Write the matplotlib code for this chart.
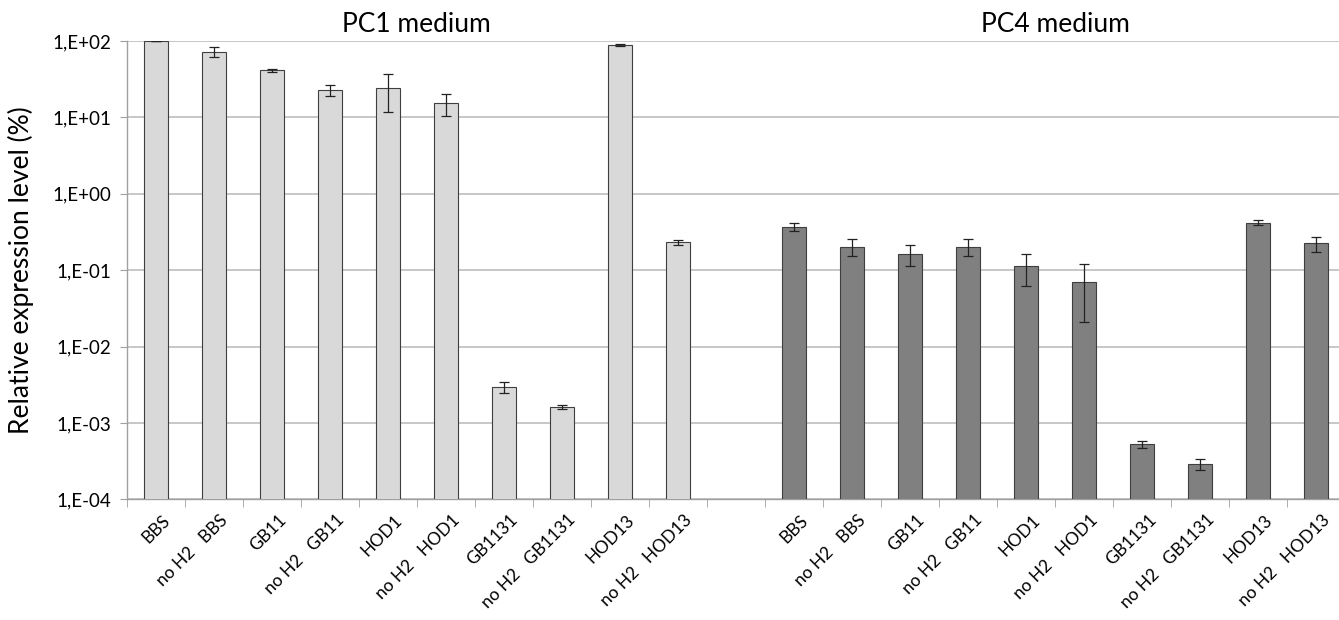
import numpy as np
import matplotlib
matplotlib.use("Agg")
import matplotlib.pyplot as plt

plt.rcParams['font.family'] = ['Lato', 'DejaVu Sans']

# sample names, same order for both media
samples = ['BBS', 'no H2   BBS', 'GB11', 'no H2   GB11', 'HOD1', 'no H2   HOD1',
           'GB1131', 'no H2   GB1131', 'HOD13', 'no H2   HOD13']

pc1_vals = [100.0, 72.5, 41.3, 22.9, 24.3, 15.6, 0.00294, 0.00163, 88.7, 0.231]
pc1_err = [0.5, 11.0, 2.0, 4.0, 12.5, 5.0, 0.00050, 0.00010, 3.0, 0.020]

pc4_vals = [0.369, 0.204, 0.162, 0.204, 0.113, 0.0711, 0.000526, 0.000288, 0.421, 0.2255]
pc4_err = [0.045, 0.050, 0.050, 0.050, 0.050, 0.050, 0.000050, 0.000047, 0.035, 0.050]

group_titles = ['PC1 medium', 'PC4 medium']
ytick_vals = [1e-4, 1e-3, 1e-2, 1e-1, 1e0, 1e1, 1e2]
ytick_labels = ['1,E-04', '1,E-03', '1,E-02', '1,E-01', '1,E+00', '1,E+01', '1,E+02']

fig = plt.figure(figsize=(13.39, 6.2), dpi=100)
ax = fig.add_axes([0.0947, 0.1947, 0.9098, 0.739])

n = len(samples)
x1 = np.arange(n)
x4 = np.arange(n) + n + 1
w = 0.405

ax.bar(x1, pc1_vals, width=w, color='#d9d9d9', edgecolor='#3f3f3f', linewidth=0.8, zorder=3)
ax.bar(x4, pc4_vals, width=w, color='#808080', edgecolor='#3f3f3f', linewidth=0.8, zorder=3)
ax.errorbar(x1, pc1_vals, yerr=pc1_err, fmt='none', ecolor='#222222', elinewidth=0.9,
            capsize=3.5, capthick=0.9, zorder=4)
ax.errorbar(x4, pc4_vals, yerr=pc4_err, fmt='none', ecolor='#222222', elinewidth=0.9,
            capsize=3.5, capthick=0.9, zorder=4)

ax.set_yscale('log')
ax.set_ylim(1e-4, 1e2)
ax.set_xlim(-0.5, 2 * n + 0.5)

ax.set_yticks(ytick_vals)
ax.set_yticklabels(ytick_labels, fontsize=13.5)
ax.yaxis.set_minor_locator(matplotlib.ticker.NullLocator())
ax.tick_params(axis='y', length=5, color='#a0a0a0', pad=6)
ax.grid(axis='y', color='#bdbdbd', linewidth=1.2, zorder=0)

# category labels at bar centres, tick marks on slot boundaries
ax.set_xticks(np.concatenate([x1, x4]) + 0.1)
ax.set_xticklabels(samples + samples, rotation=45, ha='right', rotation_mode='anchor',
                   fontsize=12.5)
ax.tick_params(axis='x', length=0, pad=9)
ax.set_xticks(np.arange(-0.5, 2 * n + 1), minor=True)
ax.tick_params(axis='x', which='minor', length=6, color='#a0a0a0')

for s in ['top', 'right']:
    ax.spines[s].set_visible(False)
for s in ['left', 'bottom']:
    ax.spines[s].set_color('#a0a0a0')
    ax.spines[s].set_linewidth(1.0)

ax.set_ylabel('Relative expression level (%)', fontsize=19, labelpad=13)

ax.text(x1.mean(), 1.12e2, group_titles[0], ha='center', va='bottom', fontsize=19)
ax.text(x4.mean(), 1.12e2, group_titles[1], ha='center', va='bottom', fontsize=19)

fig.savefig('out.png', dpi=100)
